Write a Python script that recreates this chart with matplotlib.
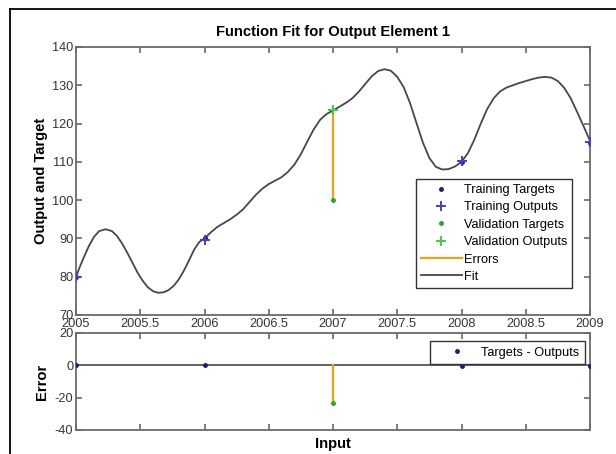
#Function fit plot for output element 1, with error panel underneath

import numpy as np
import matplotlib.pyplot as plt
from matplotlib.lines import Line2D

# sample inputs, targets and network outputs
inputs = [2005, 2006, 2007, 2008, 2009]
targets = [80, 90, 100, 110, 115]
outputs = [80.0, 89.7, 123.5, 110.3, 115.3]
train_idx = [0, 1, 3, 4]
val_idx = [2]

# fitted curve
fit_x = [2005.0, 2005.03, 2005.06, 2005.1, 2005.14, 2005.18, 2005.23, 2005.28,
         2005.32, 2005.36, 2005.4, 2005.44, 2005.48, 2005.52, 2005.56, 2005.6,
         2005.64, 2005.68, 2005.72, 2005.76, 2005.8, 2005.84, 2005.88, 2005.92,
         2005.96, 2006.0, 2006.05, 2006.1, 2006.15, 2006.2, 2006.25, 2006.3,
         2006.35, 2006.4, 2006.45, 2006.5, 2006.55, 2006.6, 2006.65, 2006.7,
         2006.75, 2006.8, 2006.85, 2006.9, 2006.95, 2007.0, 2007.05, 2007.1,
         2007.15, 2007.2, 2007.25, 2007.3, 2007.35, 2007.4, 2007.45, 2007.5,
         2007.55, 2007.6, 2007.65, 2007.7, 2007.75, 2007.8, 2007.85, 2007.9,
         2007.95, 2008.0, 2008.05, 2008.1, 2008.15, 2008.2, 2008.25, 2008.3,
         2008.35, 2008.4, 2008.45, 2008.5, 2008.55, 2008.6, 2008.65, 2008.7,
         2008.75, 2008.8, 2008.85, 2008.9, 2008.95, 2009.0]
fit_y = [80.0, 82.6, 85.0, 88.0, 90.4, 91.9, 92.4, 91.9,
         90.6, 88.6, 86.2, 83.6, 81.0, 78.9, 77.2, 76.2,
         75.8, 75.9, 76.5, 77.6, 79.3, 81.6, 84.3, 87.1,
         89.1, 90.0, 91.6, 93.0, 94.0, 95.0, 96.2, 97.6,
         99.5, 101.4, 103.0, 104.2, 105.1, 106.0, 107.4, 109.3,
         112.0, 115.3, 118.5, 121.0, 122.5, 123.4, 124.4, 125.4,
         126.6, 128.3, 130.3, 132.3, 133.7, 134.2, 133.8, 132.2,
         129.5, 125.3, 120.1, 115.0, 111.0, 108.7, 108.0, 108.1,
         108.8, 110.0, 112.3, 115.8, 120.0, 123.8, 126.6, 128.4,
         129.4, 130.0, 130.6, 131.1, 131.6, 132.0, 132.2, 132.0,
         131.1, 129.3, 126.6, 123.0, 119.3, 115.5]

x_ticks = [2005, 2005.5, 2006, 2006.5, 2007, 2007.5, 2008, 2008.5, 2009]
x_tick_labels = ['2005', '2005.5', '2006', '2006.5', '2007', '2007.5', '2008', '2008.5', '2009']

inputs = np.array(inputs)
targets = np.array(targets)
outputs = np.array(outputs)
errors = targets - outputs

plt.rcParams['font.family'] = ['Liberation Sans', 'DejaVu Sans']
plt.rcParams['axes.unicode_minus'] = False

navy = '#1a1a80'
blue = '#4040d0'
green = '#22aa22'
lgreen = '#44cc44'
orange = '#f0a010'
gray = '#474747'
axcol = '#6a6a6a'

fig = plt.figure(figsize=(6.16, 4.54), dpi=100)
ax = fig.add_axes([0.1234, 0.3062, 0.8344, 0.5903])
ax2 = fig.add_axes([0.1234, 0.0529, 0.8344, 0.2137])

#top panel
for i in val_idx:
    ax.plot([inputs[i], inputs[i]], [targets[i], outputs[i]], color=orange, lw=1.6, zorder=2)
ax.plot(fit_x, fit_y, color=gray, lw=1.3, zorder=3)
ax.plot(inputs[train_idx], targets[train_idx], '.', color=navy, ms=5, zorder=4)
ax.plot(inputs[train_idx], outputs[train_idx], '+', color=blue, ms=7, mew=1.4, zorder=5)
ax.plot(inputs[val_idx], targets[val_idx], '.', color=green, ms=5, zorder=4)
ax.plot(inputs[val_idx], outputs[val_idx], '+', color=lgreen, ms=7, mew=1.4, zorder=5)

handles = [
    Line2D([], [], ls='none', marker='.', color=navy, ms=5),
    Line2D([], [], ls='none', marker='+', color=blue, ms=7, mew=1.4),
    Line2D([], [], ls='none', marker='.', color=green, ms=5),
    Line2D([], [], ls='none', marker='+', color=lgreen, ms=7, mew=1.4),
    Line2D([], [], color=orange, lw=1.6),
    Line2D([], [], color=gray, lw=1.3),
]
labels = ['Training Targets', 'Training Outputs', 'Validation Targets',
          'Validation Outputs', 'Errors', 'Fit']
leg = ax.legend(handles, labels, loc='upper right', bbox_to_anchor=(0.965, 0.5075),
                fontsize=9.2, fancybox=False, framealpha=1, edgecolor='#333333',
                handlelength=3.2, handletextpad=0.15, labelspacing=0.42,
                borderpad=0.4, borderaxespad=0)
leg.get_frame().set_linewidth(1.0)

ax.set_xlim(2005, 2009)
ax.set_ylim(70, 140)
ax.set_xticks(x_ticks)
ax.set_xticklabels(x_tick_labels)
ax.set_yticks(range(70, 141, 10))
ax.set_title('Function Fit for Output Element 1', fontsize=10.6, fontweight='bold', pad=8)
ax.set_ylabel('Output and Target', fontsize=10.6, fontweight='bold', labelpad=3)

#bottom panel
ax2.axhline(0, color=gray, lw=1.2, zorder=1)
for i in val_idx:
    ax2.plot([inputs[i], inputs[i]], [0, errors[i]], color=orange, lw=1.6, zorder=2)
ax2.plot(inputs[train_idx], errors[train_idx], '.', color=navy, ms=5, zorder=4)
ax2.plot(inputs[val_idx], errors[val_idx], '.', color=green, ms=5, zorder=4)
leg2 = ax2.legend([Line2D([], [], ls='none', marker='.', color=navy, ms=5)],
                  ['Targets - Outputs'], loc='upper right', bbox_to_anchor=(0.9897, 0.9175),
                  fontsize=9.2, fancybox=False, framealpha=1, edgecolor='#333333',
                  handlelength=3.2, handletextpad=0.3, borderpad=0.45, borderaxespad=0)
leg2.get_frame().set_linewidth(1.0)

ax2.set_xlim(2005, 2009)
ax2.set_ylim(-40, 20)
ax2.set_xticks(x_ticks)
ax2.set_xticklabels([])
ax2.set_yticks([-40, -20, 0, 20])
ax2.set_ylabel('Error', fontsize=10.6, fontweight='bold', labelpad=4)
ax2.set_xlabel('Input', fontsize=10.6, fontweight='bold', labelpad=3)

for a in (ax, ax2):
    for s in a.spines.values():
        s.set_color(axcol)
        s.set_linewidth(1.3)
    a.tick_params(direction='in', length=4, width=1.2, color=axcol, top=True, right=True,
                  labelsize=9.2, labelcolor='#333333', pad=2)

#outer frame
fig.add_artist(Line2D([10/616, 10/616], [0, 1 - 9/454], transform=fig.transFigure, color='black', lw=1.3))
fig.add_artist(Line2D([10/616, 1], [1 - 9/454, 1 - 9/454], transform=fig.transFigure, color='black', lw=1.3))

fig.savefig('out.png', dpi=100)
